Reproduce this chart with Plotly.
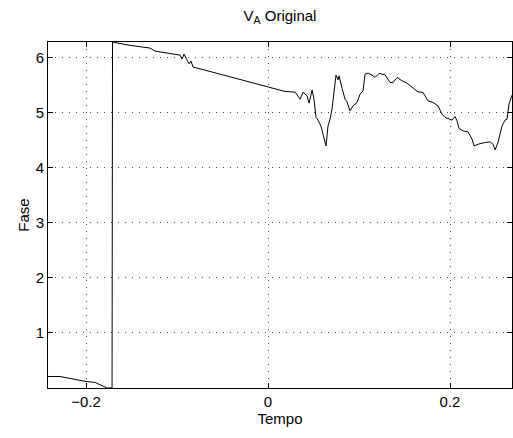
import plotly.graph_objects as go
import math

tempo = [-0.2418, -0.2286, -0.2, -0.190, -0.1769, -0.1714, -0.1709,
         -0.1703, -0.1516, -0.1297, -0.1242, -0.1077, -0.0989, -0.0967, -0.0945, -0.0923,
         -0.0890, -0.0868, -0.0846, -0.0824, -0.0747, -0.0527, -0.0308, -0.0198,
         0.0022, 0.0187, 0.0297, 0.0352, 0.0385, 0.0429, 0.0451, 0.0484, 0.0505,
         0.0527, 0.0549, 0.0582, 0.0604, 0.0637, 0.0659, 0.0681, 0.0703, 0.0725,
         0.0747, 0.0769, 0.0780, 0.0813, 0.0846, 0.0868, 0.0901, 0.0934, 0.0978,
         0.1011, 0.1044, 0.1066, 0.1099, 0.1143, 0.1176, 0.1220, 0.1286, 0.1341,
         0.1374, 0.1418, 0.1473, 0.1527, 0.1593, 0.1648, 0.1703, 0.1758, 0.1813,
         0.1868, 0.1912, 0.1945, 0.1978, 0.2022, 0.2055, 0.2077, 0.2099, 0.2143,
         0.2198, 0.2242, 0.2264, 0.2308, 0.2385, 0.2440, 0.2473, 0.2495, 0.2527,
         0.2571, 0.2604, 0.2626, 0.2648, 0.2681]
fase = [0.209, 0.209, 0.118, 0.10, 0.0, 0.0, 6.283,
        6.28, 6.222, 6.173, 6.118, 6.082, 6.058, 6.045, 5.973, 6.064,
        5.955, 5.887, 5.936, 5.827, 5.796, 5.70, 5.604, 5.549,
        5.464, 5.385, 5.373, 5.245, 5.373, 5.305, 5.173, 5.409, 5.245,
        4.918, 4.864, 4.755, 4.609, 4.396, 4.76, 4.882, 5.064, 5.373,
        5.682, 5.596, 5.669, 5.445, 5.245, 5.196, 5.033, 5.124, 5.185,
        5.336, 5.396, 5.70, 5.718, 5.682, 5.64, 5.713, 5.687, 5.549,
        5.549, 5.64, 5.578, 5.536, 5.458, 5.378, 5.367, 5.215, 5.185,
        5.124, 4.973, 4.913, 4.895, 4.864, 4.931, 4.851, 4.713, 4.669,
        4.651, 4.518, 4.396, 4.427, 4.458, 4.469, 4.427, 4.324, 4.458,
        4.76, 4.864, 4.882, 5.155, 5.318]

x_ticks = [-0.2, 0, 0.2]
x_labels = ["\u22120.2", "0", "0.2"]
y_ticks = [1, 2, 3, 4, 5, 6]

fig = go.Figure(go.Scatter(x=tempo, y=fase, mode="lines",
                           line=dict(color="black", width=1), showlegend=False))

font = dict(family="Liberation Sans, Arial, sans-serif", size=15, color="black")
axis_common = dict(showline=True, linecolor="black", linewidth=1, mirror="ticks",
                   ticks="inside", ticklen=5, tickcolor="black", tickwidth=1,
                   showgrid=True, gridcolor="rgba(0,0,0,0.7)", gridwidth=1,
                   griddash="1px,6px", zeroline=False, tickfont=font)

fig.update_layout(
    width=513, height=438,
    margin=dict(l=48, r=1, t=42, b=50),
    paper_bgcolor="white", plot_bgcolor="white",
    font=font,
    title=dict(text="V<sub>A</sub> Original", x=(48 + 512) / 2 / 513, xanchor="center",
               y=1 - 16 / 438, yanchor="middle", font=font),
    xaxis=dict(range=[-0.2418, 0.2681], tickvals=x_ticks, ticktext=x_labels,
               title=dict(text="Tempo", font=font, standoff=0), **axis_common),
    yaxis=dict(range=[0, 2 * math.pi], tickvals=y_ticks,
               title=dict(text="Fase", font=font, standoff=2), **axis_common),
)

fig.write_html("out.html")
